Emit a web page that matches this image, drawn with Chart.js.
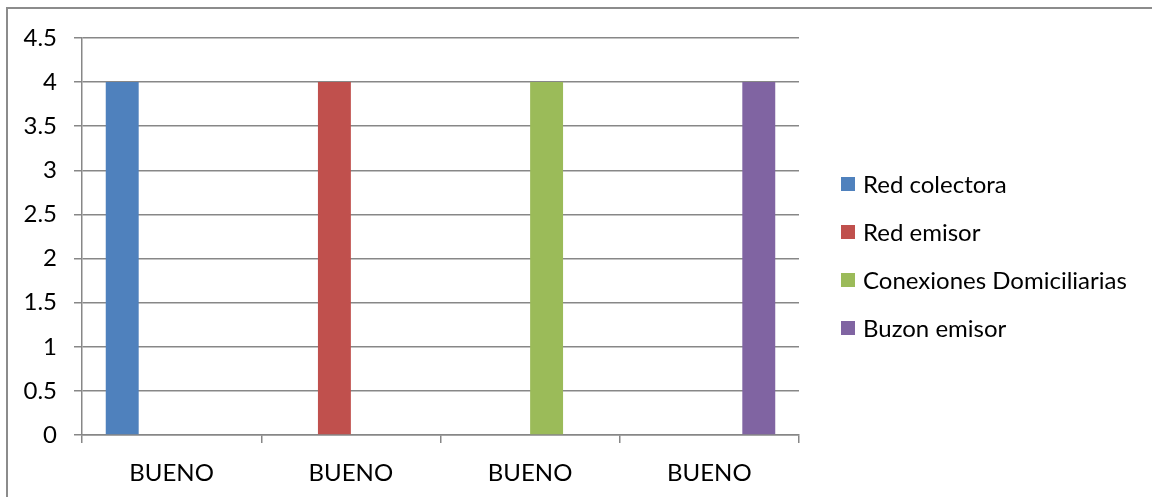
<!DOCTYPE html>
<html>
<head>
<meta charset="utf-8">
<title>Estado del sistema</title>
<script src="https://cdn.jsdelivr.net/npm/chart.js@4.4.1/dist/chart.umd.min.js"></script>
<style>
  html, body { margin: 0; padding: 0; background: #fff; }
  #wrap { position: relative; width: 1152px; height: 497px; overflow: hidden; }
  #frame { position: absolute; left: 6px; top: 7px; width: 1200px; height: 600px; border: 2px solid #8c8c8c; }
  #chart { position: absolute; left: 0; top: 0; }
</style>
</head>
<body>
<div id="wrap">
  <div id="frame"></div>
  <canvas id="chart" width="1152" height="497"></canvas>
</div>
<script>
// datos del grafico
const categories = ['BUENO', 'BUENO', 'BUENO', 'BUENO'];
const redColectora = [4, null, null, null];
const redEmisor = [null, 4, null, null];
const conexionesDomiciliarias = [null, null, 4, null];
const buzonEmisor = [null, null, null, 4];
const yTickLabels = ['0', '0.5', '1', '1.5', '2', '2.5', '3', '3.5', '4', '4.5'];
const yMax = 4.5;
const yStep = 0.5;

const gridColor = '#878787';
const fontFamily = 'Lato, "Liberation Sans", sans-serif';

// leyenda lateral al estilo Excel
const sideLegend = {
    id: 'sideLegend',
    afterDraw(chart) {
        const ctx = chart.ctx;
        const x = chart.chartArea.right + 42;
        let y = 184;
        ctx.save();
        ctx.font = '24px ' + fontFamily;
        ctx.textBaseline = 'middle';
        ctx.textAlign = 'left';
        chart.data.datasets.forEach(ds => {
            ctx.fillStyle = ds.backgroundColor;
            ctx.fillRect(x, y - 7, 14, 14);
            ctx.fillStyle = '#000';
            ctx.fillText(ds.label, x + 22, y + 1);
            y += 48;
        });
        ctx.restore();
    }
};

function initChart() {
    const canvas = document.getElementById('chart');
    new Chart(canvas, {
        type: 'bar',
        data: {
            labels: categories,
            datasets: [
                { label: 'Red colectora', data: redColectora, backgroundColor: '#4F81BD' },
                { label: 'Red emisor', data: redEmisor, backgroundColor: '#C0504D' },
                { label: 'Conexiones Domiciliarias', data: conexionesDomiciliarias, backgroundColor: '#9BBB59' },
                { label: 'Buzon emisor', data: buzonEmisor, backgroundColor: '#8064A2' }
            ]
        },
        options: {
            responsive: false,
            animation: false,
            events: [],
            categoryPercentage: 0.735,
            barPercentage: 1,
            layout: { padding: { left: 0, top: 38, right: 353, bottom: 0 } },
            plugins: {
                legend: { display: false },
                tooltip: { enabled: false }
            },
            scales: {
                x: {
                    offset: true,
                    grid: {
                        display: true,
                        drawOnChartArea: false,
                        drawTicks: true,
                        tickLength: 8,
                        color: gridColor,
                        lineWidth: 1.5,
                        offset: true
                    },
                    border: { display: true, color: gridColor, width: 1.5 },
                    ticks: {
                        color: '#000',
                        font: { family: fontFamily, size: 24 },
                        padding: 16,
                        maxRotation: 0,
                        autoSkip: false
                    },
                    afterFit(scale) { scale.height = 62; }
                },
                y: {
                    min: 0,
                    max: yMax,
                    ticks: {
                        stepSize: yStep,
                        color: '#000',
                        font: { family: fontFamily, size: 24 },
                        padding: 17,
                        callback: (value, index) => yTickLabels[index]
                    },
                    grid: { color: gridColor, lineWidth: 1.5, tickLength: 8 },
                    border: { display: true, color: gridColor, width: 1.5 },
                    afterFit(scale) { scale.width = 82; }
                }
            }
        },
        plugins: [sideLegend]
    });
}

document.addEventListener('DOMContentLoaded', initChart);
</script>
</body>
</html>
